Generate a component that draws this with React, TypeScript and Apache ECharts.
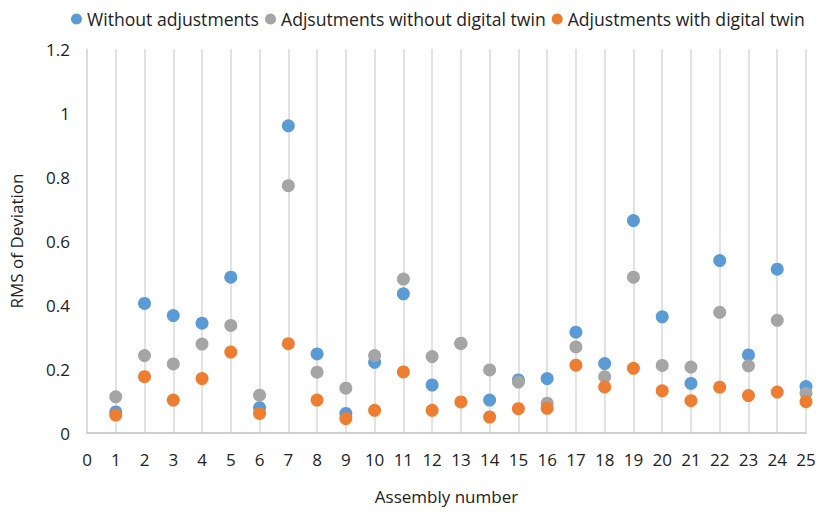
import React, { useEffect, useRef } from "react";
import * as echarts from "echarts";

const assemblies = [1, 2, 3, 4, 5, 6, 7, 8, 9, 10, 11, 12, 13, 14, 15, 16, 17, 18, 19, 20, 21, 22, 23, 24, 25];
const withoutAdj = [0.066, 0.405, 0.367, 0.343, 0.487, 0.079, 0.96, 0.247, 0.061, 0.221, 0.435, 0.15, 0.28, 0.103, 0.166, 0.17, 0.315, 0.217, 0.664, 0.363, 0.155, 0.539, 0.244, 0.512, 0.145];
const adjNoTwin = [0.113, 0.242, 0.216, 0.278, 0.336, 0.118, 0.773, 0.19, 0.14, 0.242, 0.481, 0.239, 0.28, 0.197, 0.159, 0.093, 0.269, 0.176, 0.487, 0.211, 0.206, 0.377, 0.21, 0.352, 0.124];
const adjTwin = [0.056, 0.176, 0.103, 0.17, 0.253, 0.061, 0.279, 0.103, 0.045, 0.071, 0.191, 0.071, 0.097, 0.05, 0.076, 0.077, 0.212, 0.144, 0.202, 0.132, 0.101, 0.143, 0.117, 0.128, 0.098];
const seriesNames = ["Without adjustments", "Adjsutments without digital twin", "Adjustments with digital twin"];
const colors = ["#5B9BD5", "#A5A5A5", "#ED7D31"];

const font = "'Open Sans', 'Liberation Sans', Arial, sans-serif";

export default function App() {
  const ref = useRef<HTMLDivElement>(null);
  useEffect(() => {
    if (!ref.current) return;
    const chart = echarts.init(ref.current, null, { renderer: "svg" });
    const vals = [withoutAdj, adjNoTwin, adjTwin];
    chart.setOption({
      animation: false,
      textStyle: { fontFamily: font },
      legend: {
        top: 5,
        left: 66,
        width: 800,
        icon: "circle",
        itemWidth: 11,
        itemHeight: 11,
        itemGap: 6,
        textStyle: { fontSize: 17.6, color: "#222", fontFamily: font },
        data: seriesNames,
      },
      grid: { left: 87, right: 15, top: 49, bottom: 80, containLabel: false, outerBoundsMode: "none" },
      xAxis: {
        type: "value",
        min: 0,
        max: 25,
        interval: 1,
        name: "Assembly number",
        nameLocation: "middle",
        nameGap: 55,
        nameTextStyle: { fontSize: 17, color: "#222", fontFamily: font },
        axisLine: { show: true, lineStyle: { color: "#BFBFBF", width: 1.5 } },
        axisTick: { show: false },
        axisLabel: { fontSize: 17, color: "#222", margin: 18, fontFamily: font },
        splitLine: { show: true, lineStyle: { color: "#D9D9D9", width: 1.5 } },
      },
      yAxis: {
        type: "value",
        min: 0,
        max: 1.2,
        interval: 0.2,
        name: "RMS of Deviation",
        nameLocation: "middle",
        nameGap: 62,
        nameRotate: 90,
        nameTextStyle: { fontSize: 17, color: "#222", fontFamily: font },
        axisLine: { show: true, lineStyle: { color: "#D9D9D9", width: 1.5 } },
        axisTick: { show: false },
        axisLabel: { fontSize: 17, color: "#222", margin: 17, fontFamily: font },
        splitLine: { show: false },
      },
      series: seriesNames.map((name, i) => ({
        name,
        type: "scatter",
        symbol: "circle",
        symbolSize: 13,
        itemStyle: { color: colors[i], opacity: 1 },
        data: assemblies.map((a, j) => [a, vals[i][j]]),
      })),
    });
    return () => chart.dispose();
  }, []);
  return <div ref={ref} style={{ width: 821, height: 513, position: "absolute", left: 0, top: 0 }} />;
}
